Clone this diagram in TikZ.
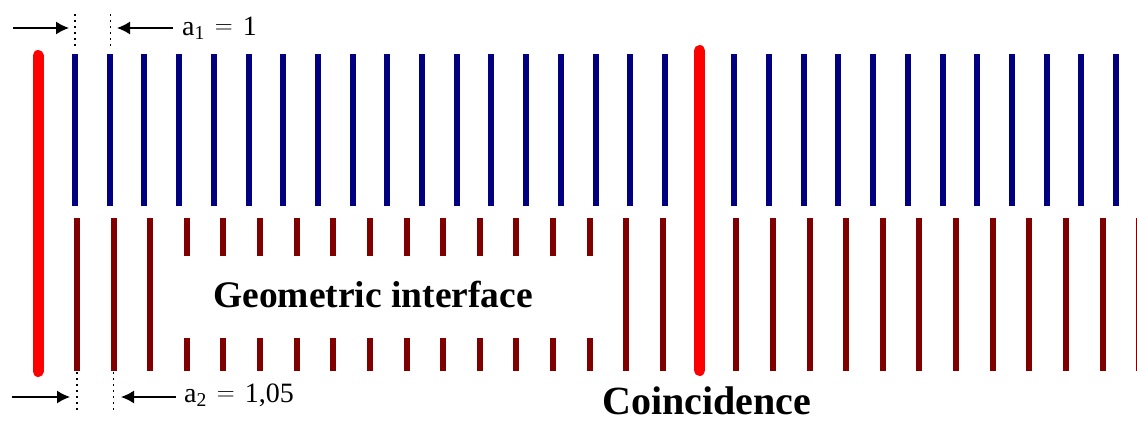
\documentclass[tikz,border=0pt]{standalone}
\usepackage[no-math]{fontspec}
\setmainfont{Liberation Serif}
\usetikzlibrary{arrows.meta}

\definecolor{upperblue}{RGB}{0,0,128}
\definecolor{lowerred}{RGB}{128,0,0}

% wide equals sign of the spacing labels
\newcommand{\wideeq}{\hspace{10pt}\raisebox{2pt}{\fontsize{36}{36}\selectfont$=$}\hspace{10pt}}

\begin{document}
\begin{tikzpicture}[
    x=1pt,
    y=-1pt,
    upper/.style={
        draw=upperblue,
        line width=6pt
    },
    lower/.style={
        draw=lowerred,
        line width=6pt
    },
    match/.style={
        draw=red,
        line width=11pt,
        line cap=round
    },
    marker/.style={
        draw=black,
        line width=1.7pt,
        dash pattern=on 2pt off 4pt
    },
    pointer/.style={
        draw=black,
        line width=1.4pt,
        -{Latex[length=13pt, width=13pt]}
    },
    caption/.style={
        font=\fontsize{37.5}{40}\selectfont\bfseries,
        anchor=base
    },
    period/.style={
        font=\fontsize{28}{32}\selectfont,
        anchor=base west,
        inner sep=0pt
    }
]

\useasboundingbox (0,0) rectangle (1137,421);

% upper lattice, spacing a1
\foreach \i in {1,...,18}
    \draw[upper] ({40.3+\i*34.7},54) -- ({40.3+\i*34.7},206);
\foreach \i in {20,...,31}
    \draw[upper] ({40.3+\i*34.7},54) -- ({40.3+\i*34.7},206);

% lower lattice, spacing a2
\foreach \i in {1,2,3,16,17}
    \draw[lower] ({40.3+\i*36.63},218) -- ({40.3+\i*36.63},371);
\foreach \i in {19,...,30}
    \draw[lower] ({40.3+\i*36.63},218) -- ({40.3+\i*36.63},371);

% broken lines round the interface
\foreach \i in {4,...,15} {
    \draw[lower] ({40.3+\i*36.63},218) -- ({40.3+\i*36.63},256);
    \draw[lower] ({40.3+\i*36.63},338) -- ({40.3+\i*36.63},371);
}

% red bars where both lattices meet
\draw[match] (38,55.5) -- (38,371.5);
\draw[match] (699.6,50.5) -- (699.6,370.5);

% spacing marks
\coordinate (T1) at (75,14);
\coordinate (T1e) at (75,48);
\coordinate (T2) at (110.5,14);
\coordinate (T2e) at (110.5,48);
\coordinate (B1) at (76.9,372);
\coordinate (B1e) at (76.9,410);
\coordinate (B2) at (113.6,372);
\coordinate (B2e) at (113.6,410);

\draw[marker] (T1) -- (T1e);
\draw[marker] (T2) -- (T2e);
\draw[marker] (B1) -- (B1e);
\draw[marker] (B2) -- (B2e);

\coordinate (TL) at (13,28);
\coordinate (TLtip) at (69,28);
\coordinate (TR) at (173,28);
\coordinate (TRtip) at (117,28);
\coordinate (BL) at (12,397);
\coordinate (BLtip) at (70,397);
\coordinate (BR) at (176,397);
\coordinate (BRtip) at (121,397);

\draw[pointer] (TL) -- (TLtip);
\draw[pointer] (TR) -- (TRtip);
\draw[pointer] (BL) -- (BLtip);
\draw[pointer] (BR) -- (BRtip);

% labels
\node[period] (aone) at (182,35) {a\textsubscript{1}\wideeq1};
\node[period] (atwo) at (184,402) {a\textsubscript{2}\wideeq1,05};
\node[caption] (iface) at (373,307) {Geometric interface};
\node[caption, font=\fontsize{40}{42}\selectfont\bfseries] (coinc) at (707,414) {Coincidence};

\end{tikzpicture}
\end{document}
